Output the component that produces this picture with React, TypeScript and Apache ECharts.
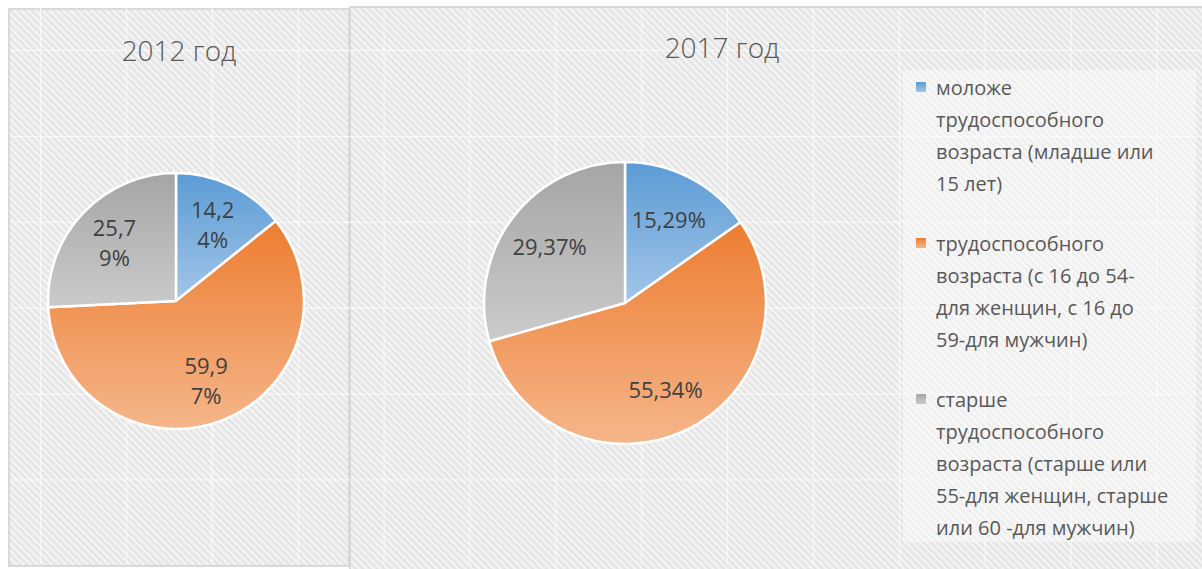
import React, { useEffect, useRef } from "react";
import * as echarts from "echarts";

// ---- data ----
const categories = [
  "моложе трудоспособного возраста (младше или 15 лет)",
  "трудоспособного возраста (с 16 до 54-для женщин, с 16 до 59-для мужчин)",
  "старше трудоспособного возраста (старше или 55-для женщин, старше или 60 -для мужчин)",
];
const legendLines = [
  ["моложе", "трудоспособного", "возраста (младше или", "15 лет)"],
  ["трудоспособного", "возраста (с 16 до 54-", "для женщин, с 16 до", "59-для мужчин)"],
  ["старше", "трудоспособного", "возраста (старше или", "55-для женщин, старше", "или 60 -для мужчин)"],
];
const titles = ["2012 год", "2017 год"];
const values2012 = [14.24, 59.97, 25.79];
const values2017 = [15.29, 55.34, 29.37];

// ---- styles ----
const FONT = "'Open Sans', 'Noto Sans', sans-serif";
const gradients = [
  ["#5B9BD5", "#A3C6E8"],
  ["#ED7D31", "#F5B68A"],
  ["#A5A5A5", "#CBCBCB"],
];
const grad = (c: string[]) => ({
  type: "linear",
  x: 0,
  y: 0,
  x2: 0,
  y2: 1,
  colorStops: [
    { offset: 0, color: c[0] },
    { offset: 1, color: c[1] },
  ],
});
const fmt = (v: number) => v.toFixed(2).replace(".", ",") + "%";

const stripes =
  "repeating-linear-gradient(45deg, #f7f7f7 0px, #e1e1e1 2.5px, #f7f7f7 5px)";

export default function App() {
  const ref = useRef<HTMLDivElement>(null);

  useEffect(() => {
    if (!ref.current) return;
    const chart = echarts.init(ref.current, undefined, { renderer: "svg" });

    const pies = [
      { values: values2012, center: [176, 301], r: 128, labelR: 1.28, wrap: true },
      { values: values2017, center: [625, 303], r: 141, labelR: 1.3, wrap: false },
    ];

    const series: any[] = [];
    pies.forEach((p) => {
      series.push({
        type: "pie",
        center: p.center,
        radius: p.r,
        startAngle: 90,
        clockwise: true,
        label: { show: false },
        labelLine: { show: false },
        emphasis: { disabled: true },
        itemStyle: { borderColor: "#ffffff", borderWidth: 2.5 },
        data: p.values.map((v, i) => ({
          name: categories[i],
          value: v,
          itemStyle: { color: grad(gradients[i]) },
        })),
      });
      // label carrier (transparent), places labels at ~0.64 r
      series.push({
        type: "pie",
        center: p.center,
        radius: p.r * p.labelR,
        startAngle: 90,
        clockwise: true,
        silent: true,
        tooltip: { show: false },
        emphasis: { disabled: true },
        itemStyle: { color: "rgba(0,0,0,0)", borderWidth: 0 },
        labelLine: { show: false },
        label: {
          show: true,
          position: "inside",
          fontFamily: FONT,
          fontSize: 22,
          lineHeight: 30,
          color: "#404040",
          textBorderWidth: 0,
          formatter: (prm: any) => {
            const s = fmt(prm.value);
            return p.wrap ? s.slice(0, 4) + "\n" + s.slice(4) : s;
          },
        },
        data: p.values.map((v, i) => ({ name: categories[i], value: v })),
      });
    });

    // legends: one per item; blank lines are prepended so that the
    // first text line sits level with the marker
    const LH = 32;
    const legends: any[] = [];
    let iconCenter = 87;
    legendLines.forEach((lines, i) => {
      const n = lines.length;
      const H = n * LH;
      const blank = new Array(n - 1).fill("");
      legends.push({
        data: [categories[i]],
        orient: "vertical",
        left: 916,
        top: iconCenter - (2 * n - 1) * 16,
        padding: 0,
        z: 10,
        icon: "rect",
        itemWidth: 10,
        itemHeight: 10,
        selectedMode: false,
        itemStyle: { borderWidth: 0 },
        formatter: () => blank.concat(lines).join("\n"),
        textStyle: {
          fontFamily: FONT,
          fontSize: 20,
          lineHeight: LH,
          color: "#595959",
          padding: [0, 0, 0, 5],
          backgroundColor: "rgba(0,0,0,0)",
        },
      });
      iconCenter += H + 28;
    });

    const titlePos = [
      [179, 50],
      [722, 47],
    ];

    chart.setOption({
      animation: false,
      backgroundColor: "transparent",
      title: titles.map((t, i) => ({
        text: t,
        left: titlePos[i][0],
        top: titlePos[i][1],
        textAlign: "center",
        textVerticalAlign: "middle",
        padding: 0,
        textStyle: {
          fontFamily: FONT,
          fontSize: 28,
          fontWeight: 300,
          color: "#595959",
        },
      })),
      legend: legends,
      graphic: [
        {
          type: "rect",
          z: 0,
          shape: { x: 903, y: 70, width: 293, height: 472 },
          style: { fill: "rgba(255,255,255,0.4)" },
          silent: true,
        },
      ],
      series,
    });

    return () => chart.dispose();
  }, []);

  return (
    <div
      style={{
        position: "fixed",
        left: 0,
        top: 0,
        width: 1202,
        height: 569,
        overflow: "hidden",
        background: "#ffffff",
      }}
    >
      <div
        style={{
          position: "absolute",
          left: 8,
          top: 8,
          width: 342,
          height: 559,
          boxSizing: "border-box",
          border: "2px solid #d9d9d9",
          background: stripes,
        }}
      />
      <div
        style={{
          position: "absolute",
          left: 349,
          top: 6,
          width: 900,
          height: 620,
          boxSizing: "border-box",
          border: "2px solid #d9d9d9",
          background: stripes,
        }}
      />
      <div
        style={{
          position: "absolute",
          left: 10,
          top: 8,
          width: 1192,
          height: 557,
          pointerEvents: "none",
          backgroundImage:
            "linear-gradient(to right, rgba(255,255,255,0.75) 1px, transparent 1px), linear-gradient(to bottom, rgba(255,255,255,0.75) 1px, transparent 1px)",
          backgroundSize: "85.9px 85.9px",
          backgroundPosition: "30px 42px",
        }}
      />
      <div
        ref={ref}
        style={{ position: "absolute", left: 0, top: 0, width: 1202, height: 569 }}
      />
    </div>
  );
}
